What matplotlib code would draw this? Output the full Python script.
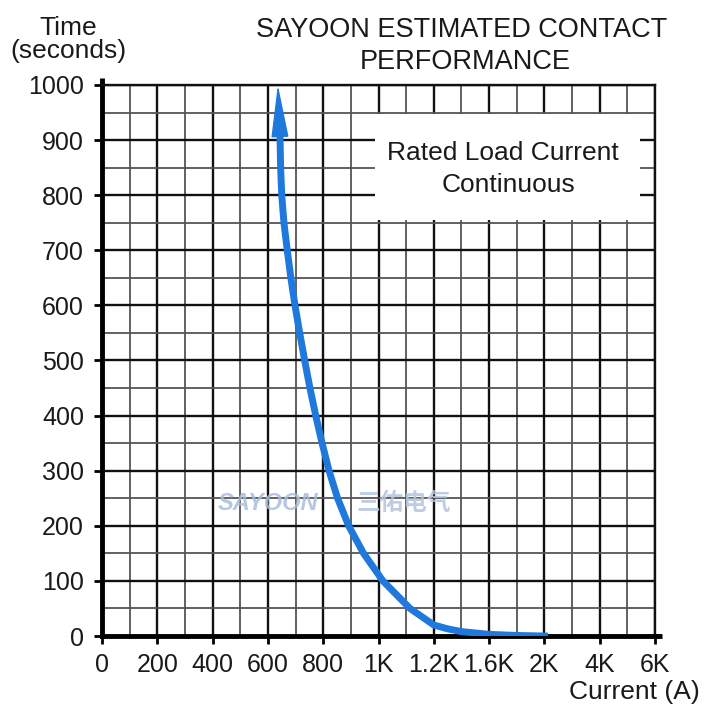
import numpy as np
import matplotlib
matplotlib.use("Agg")
import matplotlib.pyplot as plt
from matplotlib.patches import Rectangle

# the current axis is not linear: labelled currents sit at equal steps
tick_amps = [0, 200, 400, 600, 800, 1000, 1200, 1600, 2000, 4000, 6000]
tick_labels = ["0", "200", "400", "600", "800", "1K", "1.2K", "1.6K", "2K", "4K", "6K"]
minor_amps = [100, 300, 500, 700, 900, 1100, 1400, 1800, 3000, 5000]
time_ticks = list(range(0, 1001, 100))
time_minor = list(range(50, 1000, 100))

# contact performance curve (amps, seconds)
curve_amps = [2000, 1800, 1600, 1400, 1300, 1200, 1114, 1016, 946, 892, 852, 821,
              796, 773, 752, 733, 715, 698, 683, 670, 658, 650, 646, 644]
curve_secs = [0, 1, 3, 8, 13, 20, 50, 100, 150, 200, 250, 300,
              350, 400, 450, 500, 550, 600, 650, 700, 750, 800, 850, 900]
arrow_tip = (636, 1000)

BLUE = "#1f78dc"
TEXT = "#1a1a1a"
FONT = "Liberation Sans"

plt.rcParams["font.family"] = [FONT, "DejaVu Sans"]

idx = np.arange(len(tick_amps), dtype=float)


def _fwd(a):
    return np.interp(a, tick_amps, idx)


def _inv(i):
    return np.interp(i, idx, tick_amps)


fig = plt.figure(figsize=(7.04, 7.07), dpi=100)
ax = fig.add_axes([0.1449, 0.1004, 0.7855, 0.7794])
ax.set_xscale("function", functions=(_fwd, _inv))
ax.set_xlim(0, 6000)
ax.set_ylim(0, 1000)

ax.set_xticks(tick_amps)
ax.set_xticklabels(tick_labels)
ax.set_xticks(minor_amps, minor=True)
ax.set_yticks(time_ticks)
ax.set_yticks(time_minor, minor=True)

ax.set_axisbelow(True)
ax.grid(which="major", color="#111111", lw=1.7)
ax.grid(which="minor", color="#555555", lw=1.3)
ax.tick_params(which="major", direction="out", length=6, width=2, color="black",
               labelsize=18, labelcolor=TEXT)
ax.tick_params(axis="x", which="major", pad=6)
ax.tick_params(axis="y", which="major", pad=7)
ax.tick_params(which="minor", length=0)

for side in ("left", "bottom"):
    ax.spines[side].set_linewidth(3.5)
    ax.spines[side].set_color("black")
for side in ("top", "right"):
    ax.spines[side].set_linewidth(1.7)
    ax.spines[side].set_color("#111111")

# axis lines run a little past the grid
ax.plot([1.0, 1.013], [0, 0], transform=ax.transAxes, color="black", lw=3.5,
        clip_on=False, solid_capstyle="butt")
ax.plot([0, 0], [1.0, 1.012], transform=ax.transAxes, color="black", lw=3.5,
        clip_on=False, solid_capstyle="butt")

# white label box over the grid
ax.add_patch(Rectangle((0.494, 0.755), 0.479, 0.192, transform=ax.transAxes,
                       facecolor="white", edgecolor="none", zorder=2))
ax.text(0.725, 0.877, "Rated Load Current", transform=ax.transAxes, ha="center",
        va="center", fontsize=19, color=TEXT, zorder=3)
ax.text(0.735, 0.818, "Continuous", transform=ax.transAxes, ha="center",
        va="center", fontsize=19, color=TEXT, zorder=3)

# faint watermark
ax.text(0.21, 0.241, "SAYOON", transform=ax.transAxes, ha="left", va="center",
        fontsize=17, fontweight="bold", fontstyle="italic", color="#a9bedc",
        alpha=0.85, zorder=3)
ax.text(0.46, 0.241, "三佑电气", transform=ax.transAxes, ha="left", va="center",
        fontsize=17, fontweight="bold", color="#b4c5de", alpha=0.85, zorder=3,
        family=["Noto Sans CJK SC", "DejaVu Sans"])

ax.plot(curve_amps, curve_secs, color=BLUE, lw=5, solid_joinstyle="round",
        solid_capstyle="projecting", zorder=4)
ax.annotate("", xy=arrow_tip, xytext=(curve_amps[-1], curve_secs[-1]),
            arrowprops=dict(arrowstyle="-|>,head_length=1.7,head_width=0.28",
                            mutation_scale=20, color=BLUE, lw=1,
                            shrinkA=0, shrinkB=0),
            zorder=5, annotation_clip=False)

fig.text(68 / 704, 1 - 35 / 707, "Time", ha="center", va="baseline",
         fontsize=19, color=TEXT)
fig.text(68 / 704, 1 - 58 / 707, "(seconds)", ha="center", va="baseline",
         fontsize=19, color=TEXT)
fig.text(462 / 704, 1 - 30 / 707, "SAYOON ESTIMATED CONTACT", ha="center",
         va="center", fontsize=19.5, color=TEXT)
fig.text(465 / 704, 1 - 62 / 707, "PERFORMANCE", ha="center", va="center",
         fontsize=19.5, color=TEXT)
fig.text(700 / 704, 1 - 692 / 707, "Current (A)", ha="right", va="center",
         fontsize=19, color=TEXT)

fig.savefig("out.png", dpi=100, facecolor="white")
